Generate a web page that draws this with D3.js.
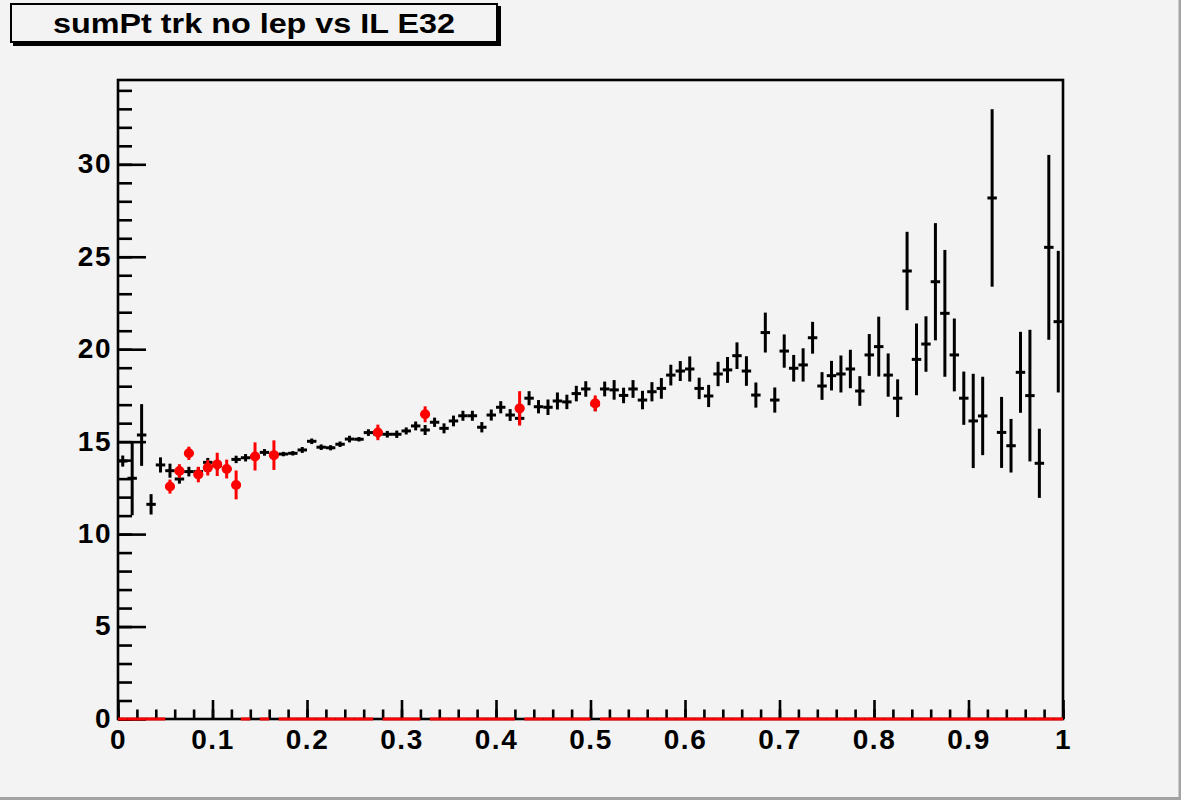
<!DOCTYPE html>
<html>
<head>
<meta charset="utf-8">
<script src="https://cdn.jsdelivr.net/npm/d3@7"></script>
<style>
  html, body { margin: 0; padding: 0; background: #f3f3f3; }
  svg { display: block; }
</style>
</head>
<body>
<div id="chart"></div>
<script>
// ---- data ----
const titleText = "sumPt trk no lep vs IL E32";
const nBins = 100;
const xRange = [0, 1];
const yMax = 34.56;
const xTickValues = [0, 0.1, 0.2, 0.3, 0.4, 0.5, 0.6, 0.7, 0.8, 0.9, 1];
const xTickLabels = ["0", "0.1", "0.2", "0.3", "0.4", "0.5", "0.6", "0.7", "0.8", "0.9", "1"];
const yTickValues = [0, 5, 10, 15, 20, 25, 30];
const yTickLabels = ["0", "5", "10", "15", "20", "25", "30"];

// black profile: mean per bin
const blackMean = [
  13.95, 13.02, 15.36, 11.61, 13.74, 13.43, 12.98, 13.38, 13.38, 13.88,
  13.70, 13.52, 14.04, 14.13, 14.18, 14.42, 14.30, 14.33, 14.37, 14.55,
  15.02, 14.70, 14.67, 14.86, 15.14, 15.13, 15.49, 15.41, 15.40, 15.40,
  15.58, 15.85, 15.63, 16.05, 15.72, 16.12, 16.40, 16.40, 15.78, 16.44,
  16.86, 16.44, 16.26, 17.35, 16.89, 16.86, 17.20, 17.15, 17.60, 17.85,
  17.00, 17.85, 17.80, 17.50, 17.85, 17.25, 17.70, 17.88, 18.60, 18.82,
  18.93, 17.88, 17.47, 18.66, 18.88, 19.65, 18.82, 17.52, 20.90, 17.25,
  19.90, 18.97, 19.15, 20.62, 18.01, 18.57, 18.66, 18.93, 17.74, 19.69,
  20.14, 18.60, 17.35, 24.23, 19.45, 20.28, 23.65, 21.94, 19.69, 17.35,
  16.12, 16.39, 28.18, 15.50, 14.78, 18.75, 17.49, 13.83, 25.51, 21.49
];
// black profile: error per bin
const blackErr = [
  0.30, 2.00, 1.67, 0.55, 0.41, 0.38, 0.25, 0.26, 0.25, 0.24,
  0.24, 0.20, 0.20, 0.20, 0.18, 0.18, 0.15, 0.12, 0.12, 0.16,
  0.15, 0.15, 0.14, 0.15, 0.18, 0.12, 0.18, 0.20, 0.18, 0.20,
  0.19, 0.24, 0.27, 0.25, 0.27, 0.29, 0.27, 0.27, 0.28, 0.30,
  0.33, 0.32, 0.30, 0.38, 0.36, 0.42, 0.46, 0.39, 0.42, 0.42,
  0.35, 0.40, 0.53, 0.42, 0.48, 0.50, 0.52, 0.56, 0.56, 0.54,
  0.68, 0.58, 0.60, 0.66, 0.70, 0.72, 0.80, 0.68, 1.08, 0.68,
  0.90, 0.72, 0.90, 0.86, 0.75, 0.80, 1.00, 1.04, 0.80, 1.13,
  1.62, 1.17, 1.02, 2.12, 1.94, 1.50, 3.17, 3.43, 1.97, 1.44,
  2.55, 2.12, 4.80, 1.92, 1.45, 2.19, 3.56, 1.87, 5.00, 3.83
];
// red profile: only a few filled bins (bin index, mean, error); others are empty (0)
const redBins = [5, 6, 7, 8, 9, 10, 11, 12, 14, 16, 27, 32, 42, 50];
const redMean = [12.57, 13.41, 14.37, 13.22, 13.59, 13.77, 13.52, 12.66, 14.20, 14.27, 15.50, 16.48, 16.80, 17.07];
const redErr  = [0.38, 0.37, 0.36, 0.42, 0.42, 0.63, 0.51, 0.78, 0.76, 0.80, 0.42, 0.43, 0.93, 0.43];

// ---- layout ----
const W = 1181, H = 800;
const frame = { left: 118, right: 1063, top: 80, bottom: 719 };
const bg = "#f3f3f3";
const fontFam = "'Liberation Sans', Arial, Helvetica, sans-serif";

const svg = d3.select("#chart").append("svg")
  .attr("width", W).attr("height", H)
  .style("background", bg);

// canvas border (bevel)
svg.append("rect").attr("x", 0).attr("y", 0).attr("width", W).attr("height", H).attr("fill", bg);
svg.append("line").attr("x1", W - 1).attr("x2", W - 1).attr("y1", 0).attr("y2", H)
  .attr("stroke", "#a3a3a3").attr("stroke-width", 3);
svg.append("line").attr("x1", 0).attr("x2", W).attr("y1", H - 1.5).attr("y2", H - 1.5)
  .attr("stroke", "#a3a3a3").attr("stroke-width", 3);

const x = d3.scaleLinear().domain(xRange).range([frame.left, frame.right]);
const y = d3.scaleLinear().domain([0, yMax]).range([frame.bottom, frame.top]);
const binW = (xRange[1] - xRange[0]) / nBins;

// frame
svg.append("rect")
  .attr("x", frame.left).attr("y", frame.top)
  .attr("width", frame.right - frame.left).attr("height", frame.bottom - frame.top)
  .attr("fill", bg).attr("stroke", "#000").attr("stroke-width", 2.6);

// ---- axes ----
const xMinor = d3.range(0, 51).map(i => i * 0.02);
const yMinor = d3.range(0, 35).map(i => i);

const gxMinor = svg.append("g").attr("transform", `translate(0,${frame.bottom})`)
  .call(d3.axisBottom(x).tickValues(xMinor).tickSize(-9.5).tickFormat(""));
const gx = svg.append("g").attr("transform", `translate(0,${frame.bottom})`)
  .call(d3.axisBottom(x).tickValues(xTickValues).tickSize(-19).tickPadding(10)
    .tickFormat((d, i) => xTickLabels[i]));
const gyMinor = svg.append("g").attr("transform", `translate(${frame.left},0)`)
  .call(d3.axisLeft(y).tickValues(yMinor).tickSize(-14).tickFormat(""));
const gy = svg.append("g").attr("transform", `translate(${frame.left},0)`)
  .call(d3.axisLeft(y).tickValues(yTickValues).tickSize(-28).tickPadding(6)
    .tickFormat((d, i) => yTickLabels[i]));

[gxMinor, gx, gyMinor, gy].forEach(g => {
  g.select(".domain").remove();
  g.selectAll(".tick line").attr("stroke", "#000").attr("stroke-width", 2.6);
});
[gx, gy].forEach(g => {
  g.selectAll(".tick text")
    .attr("fill", "#000")
    .style("font-family", fontFam)
    .style("font-weight", "bold")
    .style("font-size", "28px")
    .style("letter-spacing", "1.5px");
});
gx.selectAll(".tick text").attr("dy", "0.71em");
gy.selectAll(".tick text").attr("dy", "0.30em");

// ---- black profile ----
const blackData = blackMean.map((v, i) => ({ i, v, e: blackErr[i] }));
const gb = svg.append("g").attr("stroke", "#000").attr("stroke-width", 3);
gb.selectAll("line.h").data(blackData).join("line").attr("class", "h")
  .attr("x1", d => x(xRange[0] + d.i * binW)).attr("x2", d => x(xRange[0] + (d.i + 1) * binW))
  .attr("y1", d => y(d.v)).attr("y2", d => y(d.v));
gb.selectAll("line.v").data(blackData).join("line").attr("class", "v")
  .attr("x1", d => x(xRange[0] + (d.i + 0.5) * binW)).attr("x2", d => x(xRange[0] + (d.i + 0.5) * binW))
  .attr("y1", d => y(d.v - d.e)).attr("y2", d => y(d.v + d.e));

// ---- red profile ----
const redAll = d3.range(nBins).map(i => {
  const k = redBins.indexOf(i);
  return k >= 0 ? { i, v: redMean[k], e: redErr[k], filled: true } : { i, v: 0, e: 0, filled: false };
});
const gr = svg.append("g").attr("stroke", "#ff0000").attr("stroke-width", 3);
gr.selectAll("line.h").data(redAll).join("line").attr("class", "h")
  .attr("x1", d => x(xRange[0] + d.i * binW)).attr("x2", d => x(xRange[0] + (d.i + 1) * binW))
  .attr("y1", d => y(d.v)).attr("y2", d => y(d.v));
const redFilled = redAll.filter(d => d.filled);
gr.selectAll("line.v").data(redFilled).join("line").attr("class", "v")
  .attr("x1", d => x(xRange[0] + (d.i + 0.5) * binW)).attr("x2", d => x(xRange[0] + (d.i + 0.5) * binW))
  .attr("y1", d => y(d.v - d.e)).attr("y2", d => y(d.v + d.e));
svg.append("g").selectAll("circle").data(redFilled).join("circle")
  .attr("cx", d => x(xRange[0] + (d.i + 0.5) * binW)).attr("cy", d => y(d.v))
  .attr("r", 5).attr("fill", "#ff0000");

// ---- title box ----
svg.append("rect").attr("x", 13).attr("y", 6).attr("width", 488).attr("height", 40).attr("fill", "#000");
svg.append("rect").attr("x", 11).attr("y", 4).attr("width", 486).attr("height", 38)
  .attr("fill", bg).attr("stroke", "#000").attr("stroke-width", 2);
svg.append("text").attr("x", 254).attr("y", 33)
  .attr("text-anchor", "middle")
  .attr("textLength", 402).attr("lengthAdjust", "spacingAndGlyphs")
  .style("font-family", fontFam).style("font-weight", "bold").style("font-size", "28px")
  .text(titleText);
</script>
</body>
</html>
